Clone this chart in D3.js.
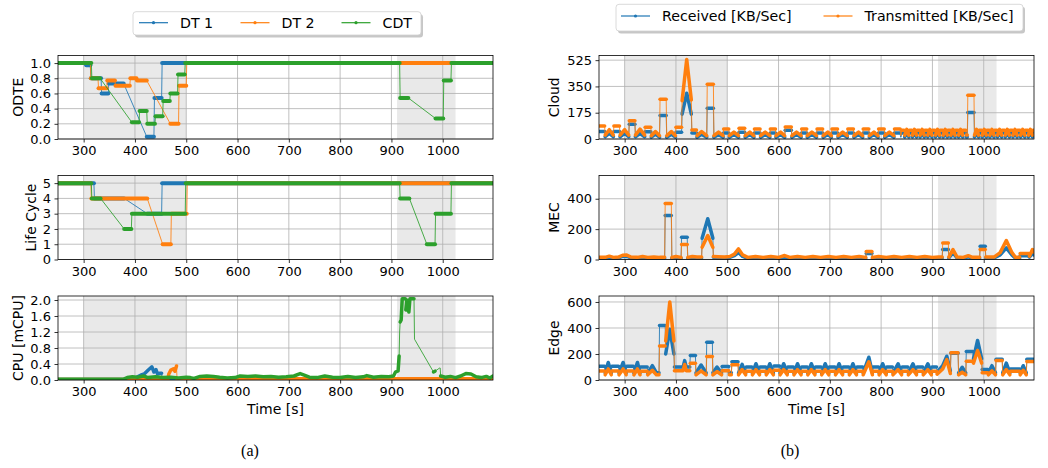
<!DOCTYPE html>
<meta charset="utf-8">
<style>
body { margin: 0; background: #fff; }
svg { font-family: "DejaVu Sans", sans-serif; }
.grid { stroke: #b0b0b0; stroke-width: 0.8; }
.frame { fill: none; stroke: #000; stroke-width: 0.8; }
.ylab, .xlab { font-size: 14px; }
.caption { font-family: "Liberation Serif", "DejaVu Serif", serif; font-size: 16px; }
</style>
<svg width="1048" height="468"></svg>
<script src="https://d3js.org/d3.v7.min.js"></script>
<script>

// ---- data ----
var xDomain = [250, 1098];
var xTicks = [300, 400, 500, 600, 700, 800, 900, 1000];
var spans = [[300, 500], [911, 1025]];

// left column: [time, value], null = no samples (thin connecting line)
var odteDT1 = [[250,1],[304,1],[305,0.97],[313,0.97],[314,0.8],[334,0.8],[335,0.6],[348,0.6],[349,0.73],[378,0.73],null,
  [423,0.03],[437,0.03],[438,0.54],[452,0.54],[453,1],[1098,1]];
var odteDT2 = [[250,1],[313,1],[314,0.8],[328,0.8],[329,0.67],[345,0.67],[346,0.77],[361,0.77],[362,0.7],[390,0.7],
  [391,0.8],[403,0.8],[404,0.77],[423,0.77],null,[469,0.2],[485,0.2],[486,0.7],[500,0.7],[501,1],[1098,1]];
var odteCDT = [[250,1],[315,1],[316,0.8],[332,0.8],null,[394,0.22],[408,0.22],[409,0.37],[423,0.37],[424,0.2],[439,0.2],
  [440,0.3],[454,0.3],[455,0.5],[468,0.5],[469,0.6],[483,0.6],[484,0.85],[497,0.85],[498,1],[916,1],[917,0.54],[933,0.54],null,
  [986,0.27],[1001,0.27],[1002,0.77],[1016,0.77],[1017,1],[1098,1]];

var lcDT1 = [[250,5],[320,5],[321,4],[379,4],null,[424,3],[452,3],[453,5],[1098,5]];
var lcDT2 = [[250,5],[314,5],[315,4],[424,4],null,[454,1],[470,1],[471,3],[501,3],[502,5],[1098,5]];
var lcCDT = [[250,5],[315,5],[316,4],[333,4],null,[379,2],[393,2],[394,3],[498,3],[499,5],[916,5],[917,4],[935,4],null,
  [969,1],[985,1],[986,3],[1016,3],[1017,5],[1098,5]];

var cpuDT1 = [[250,0.01],[400,0.01],[405,0.08],[411,0.12],[418,0.15],[426,0.25],[433,0.33],[437,0.2],[441,0.26],
  [444,0.15],[449,0.17],[452,0.17],[453,0.01],[1098,0.01]];
var cpuDT2 = [[250,0.01],[464,0.01],[466,0.15],[470,0.25],[475,0.28],[478,0.22],[481,0.35],[482,0.03],[1098,0.03]];
var cpuCDT = [[250,0.02],[378,0.02],[385,0.06],[395,0.08],[405,0.07],[417,0.1],[425,0.06],[440,0.08],[455,0.06],
  [470,0.07],[485,0.05],[500,0.07],[508,0.06],[515,0.04],[527,0.09],[540,0.1],[553,0.09],[565,0.07],[580,0.05],
  [595,0.06],[605,0.1],[620,0.09],[635,0.1],[650,0.08],[665,0.09],[680,0.07],[695,0.08],[710,0.1],[722,0.16],
  [730,0.12],[740,0.07],[755,0.06],[770,0.1],[785,0.07],[800,0.06],[815,0.09],[830,0.06],[845,0.08],[852,0.11],
  [865,0.07],[880,0.09],[895,0.08],[904,0.1],[908,0.2],[913,0.23],[915,0.6],[916,1.2],[917,1.45],[919,1.5],
  [921,2.03],[927,2.03],[928,1.75],[930,2.0],[932,1.8],[934,1.7],[936,2.03],[944,2.03],[945,1.02],null,
  [982,0.2],[985,0.22],null,[994,0.3],[995,0.3],[996,0.1],[1005,0.07],[1015,0.09],[1025,0.06],[1035,0.1],
  [1045,0.16],[1055,0.15],[1065,0.08],[1075,0.06],[1085,0.09],[1092,0.05],[1098,0.1]];

// right column: [time, received, transmitted]
var cloudRows = [
  [250,50,86],[261,50,86],[262,15,26],[270,38,62],[278,15,26],
  [279,50,86],[290,50,86],[291,15,26],[300,38,62],[308,15,26],
  [309,98,122],[320,98,122],[321,15,26],[330,38,66],[339,15,26],
  [340,48,78],[351,48,78],[352,12,22],[360,32,50],[368,12,22],
  [369,157,264],[381,157,264],[382,12,22],[391,32,50],[399,12,22],
  [400,45,78],[411,45,78],[412,165,255],[421,305,530],[430,165,260],
  [431,40,60],[440,40,60],[441,12,22],[450,32,50],[460,12,22],
  [461,204,365],[473,204,365],[474,12,22],[483,30,46],[492,12,22],
  [493,40,66],[503,40,66],[504,12,22],[513,30,46],[522,12,22],
  [523,45,72],[534,45,72],[535,12,22],[544,30,46],[552,12,22],
  [553,40,66],[564,40,66],[565,12,22],[574,30,46],[583,12,22],
  [584,40,66],[594,40,66],[595,12,22],[604,30,46],[612,12,22],
  [613,58,80],[625,58,80],[626,12,22],[635,30,46],[644,12,22],
  [645,40,66],[655,40,66],[656,12,22],[665,30,46],[674,12,22],
  [675,40,66],[686,40,66],[687,12,22],[696,30,46],[703,12,22],
  [704,40,66],[715,40,66],[716,12,22],[725,30,46],[734,12,22],
  [735,40,66],[746,40,66],[747,12,22],[756,30,46],[764,12,22],
  [765,40,66],[776,40,66],[777,12,22],[786,30,46],[794,12,22],
  [795,40,66],[806,40,66],[807,12,22],[816,30,46],[825,12,22],
  [826,40,66],[837,40,66],[838,12,22],[839,12,22],
  [840,40,58],[845,40,58],[846,14,26],[850,38,64],[854,14,26],
  [855,40,58],[860,40,58],[861,14,26],[865,38,64],[869,14,26],
  [870,40,58],[875,40,58],[876,14,26],[880,38,64],[884,14,26],
  [885,40,58],[890,40,58],[891,14,26],[895,38,64],[899,14,26],
  [900,40,58],[905,40,58],[906,14,26],[910,38,64],[914,14,26],
  [915,40,58],[920,40,58],[921,14,26],[925,38,64],[929,14,26],
  [930,40,58],[935,40,58],[936,14,26],[940,38,64],[944,14,26],
  [945,40,58],[950,40,58],[951,14,26],[955,38,64],[959,14,26],
  [960,40,58],[965,40,58],[966,14,26],[968,14,26],
  [969,177,292],[981,177,292],[982,14,26],[986,38,64],[990,14,26],
  [991,40,58],[996,40,58],[997,14,26],[1001,38,64],[1005,14,26],
  [1006,40,58],[1011,40,58],[1012,14,26],[1016,38,64],[1020,14,26],
  [1021,40,58],[1026,40,58],[1027,14,26],[1031,38,64],[1035,14,26],
  [1036,40,58],[1041,40,58],[1042,14,26],[1046,38,64],[1050,14,26],
  [1051,40,58],[1056,40,58],[1057,14,26],[1061,38,64],[1065,14,26],
  [1066,40,58],[1071,40,58],[1072,14,26],[1076,38,64],[1080,14,26],
  [1081,40,58],[1086,40,58],[1087,14,26],[1091,38,64],[1095,14,26],
  [1096,40,58],[1098,40,58]
];

var mecRows = [
  [250,8,14],[262,8,14],[270,12,22],[278,8,14],[288,10,16],[296,20,28],[304,22,30],[312,10,16],[325,8,14],
  [335,12,20],[345,8,14],[357,10,16],[368,8,14],[378,8,14],
  [379,290,368],[391,290,368],[392,8,14],[400,12,20],[410,8,14],
  [411,147,99],[422,147,99],[423,8,14],[432,12,20],[441,10,16],[450,10,16],
  [451,140,80],[462,268,158],[472,140,80],[473,15,20],[482,12,18],[495,10,16],[505,15,20],[514,25,35],
  [522,46,70],[530,20,30],[540,8,14],[555,12,20],[570,8,14],[585,12,20],[600,8,14],[612,14,26],[622,8,14],
  [637,12,20],[652,8,14],[667,12,20],[682,8,14],[697,12,20],[712,8,14],[727,12,20],[742,8,14],[757,12,20],[770,8,14],
  [771,40,53],[782,40,53],[783,8,14],[795,12,20],[810,8,14],[825,12,20],[840,8,14],[855,12,20],[870,8,14],
  [885,12,20],[900,8,14],[912,10,16],[919,10,16],
  [920,66,108],[931,66,108],[932,10,16],[940,46,66],[948,10,16],[960,8,14],[970,18,25],[978,8,14],[992,8,14],
  [993,88,66],[1003,88,66],[1004,10,16],[1020,10,16],[1032,30,45],[1044,77,125],[1055,30,45],[1062,8,14],[1070,8,14],
  [1071,25,40],[1088,25,40],[1089,15,22],[1095,40,66],[1098,30,50]
];

var edgeRows = [
  [250,105,70],[261,105,70],[262,55,40],[268,135,85],[274,55,40],
  [275,105,70],[288,105,70],[289,55,40],[297,135,85],[303,55,40],
  [304,105,70],[317,105,70],[318,55,40],[325,135,85],[330,55,40],
  [331,100,68],[344,100,68],[345,55,40],[354,110,75],[362,55,40],[367,55,40],
  [368,420,262],[379,420,262],[380,200,300],[388,390,600],[396,200,300],
  [397,100,72],[414,100,72],[417,149,119],[420,100,72],[427,100,72],
  [428,188,128],[438,188,128],[439,55,40],[449,115,70],[459,55,40],
  [460,291,180],[471,291,180],[472,55,40],[480,100,65],[489,55,40],
  [490,103,72],[503,103,72],[504,55,40],[508,55,40],[509,140,118],[521,140,118],
  [522,55,40],[529,120,80],[536,55,40],
  [537,100,68],[548,100,68],[549,55,40],[556,125,80],[563,55,40],
  [564,100,68],[575,100,68],[576,55,40],[583,125,80],[590,55,40],
  [591,108,75],[602,108,75],[603,55,40],[610,125,80],[617,55,40],
  [618,100,68],[629,100,68],[630,55,40],[637,125,80],[644,55,40],
  [645,100,68],[656,100,68],[657,55,40],[664,125,80],[671,55,40],
  [672,100,68],[683,100,68],[684,55,40],[691,125,80],[698,55,40],
  [699,100,68],[710,100,68],[711,55,40],[718,125,80],[725,55,40],
  [726,100,68],[737,100,68],[738,55,40],[745,125,80],[752,55,40],
  [753,100,68],[764,100,68],[765,55,40],[776,175,140],[783,55,40],
  [784,100,68],[795,100,68],[796,55,40],[803,125,80],[810,55,40],
  [811,100,68],[822,100,68],[823,55,40],[833,125,80],[840,55,40],
  [841,100,68],[852,100,68],[853,55,40],[862,125,80],[869,55,40],
  [870,100,68],[881,100,68],[882,55,40],[891,125,80],[898,55,40],
  [899,100,68],[908,100,68],[909,60,45],[920,110,85],[928,183,157],[935,70,50],
  [936,205,210],[950,205,210],[951,55,40],[958,98,60],[965,55,40],
  [966,219,144],[979,219,144],[980,165,130],[988,304,227],[996,165,130],
  [997,80,55],[1008,80,55],[1009,55,40],[1016,110,70],[1023,55,40],
  [1024,160,150],[1036,160,150],[1037,55,40],[1044,130,80],[1051,55,40],
  [1052,85,68],[1070,85,68],[1071,55,40],[1077,110,75],[1083,55,40],
  [1084,160,143],[1098,160,143]
];

// ---- drawing ----
var svg = d3.select("svg");
var blue = "#1f77b4", orange = "#ff7f0e", green = "#2ca02c";

var leftX = [58, 493], rightX = [599, 1034];
var rows = [[55.5, 139], [175.5, 259.5], [296, 380]];

function col(rowsArr, k) {
  return rowsArr.map(function(r) { return [r[0], r[k]]; });
}

function drawSeries(g, x, y, pts, color, w) {
  var line = d3.line().x(function(p) { return x(p[0]); }).y(function(p) { return y(p[1]); });
  g.append("path")
    .attr("d", line(pts.filter(function(p) { return p; })))
    .attr("fill", "none")
    .attr("stroke", color)
    .attr("stroke-width", 1)
    .attr("stroke-opacity", 0.85);

  // dense samples -> thick band, jumps and gaps stay thin
  var chains = [], cur = null;
  for (var i = 1; i < pts.length; i++) {
    var a = pts[i - 1], b = pts[i];
    if (a && b && b[0] - a[0] >= 1.5) {
      if (!cur) { cur = [a]; chains.push(cur); }
      cur.push(b);
    } else cur = null;
  }
  g.selectAll(null).data(chains).enter().append("path")
    .attr("d", line)
    .attr("fill", "none")
    .attr("stroke", color)
    .attr("stroke-width", w)
    .attr("stroke-linecap", "round")
    .attr("stroke-linejoin", "round");
}

var clipN = 0;
function panel(cfg) {
  var x = d3.scaleLinear().domain(xDomain).range(cfg.xr);
  var y = d3.scaleLinear().domain(cfg.yd).range([cfg.yr[1], cfg.yr[0]]);
  var g = svg.append("g");
  var id = "clip" + (clipN++);
  svg.append("clipPath").attr("id", id).append("rect")
    .attr("x", cfg.xr[0]).attr("y", cfg.yr[0])
    .attr("width", cfg.xr[1] - cfg.xr[0]).attr("height", cfg.yr[1] - cfg.yr[0]);

  g.selectAll(".span").data(spans).enter().append("rect")
    .attr("x", function(d) { return x(d[0]); })
    .attr("width", function(d) { return x(d[1]) - x(d[0]); })
    .attr("y", cfg.yr[0])
    .attr("height", cfg.yr[1] - cfg.yr[0])
    .attr("fill", "#e9e9e9");

  g.selectAll(".vg").data(xTicks).enter().append("line")
    .attr("class", "grid")
    .attr("x1", x).attr("x2", x)
    .attr("y1", cfg.yr[0]).attr("y2", cfg.yr[1]);
  g.selectAll(".hg").data(cfg.yTicks).enter().append("line")
    .attr("class", "grid")
    .attr("x1", cfg.xr[0]).attr("x2", cfg.xr[1])
    .attr("y1", y).attr("y2", y);

  var plot = g.append("g").attr("clip-path", "url(#" + id + ")");
  cfg.series.forEach(function(s) { drawSeries(plot, x, y, s[0], s[1], cfg.thick); });

  g.append("rect").attr("class", "frame")
    .attr("x", cfg.xr[0]).attr("y", cfg.yr[0])
    .attr("width", cfg.xr[1] - cfg.xr[0]).attr("height", cfg.yr[1] - cfg.yr[0]);

  var ax = g.append("g")
    .attr("transform", "translate(0," + cfg.yr[1] + ")")
    .call(d3.axisBottom(x).tickValues(xTicks).tickFormat(d3.format("d")).tickSize(3.5).tickPadding(3.5));
  var ay = g.append("g")
    .attr("transform", "translate(" + cfg.xr[0] + ",0)")
    .call(d3.axisLeft(y).tickValues(cfg.yTicks).tickFormat(d3.format(cfg.fmt)).tickSize(3.5).tickPadding(3.5));
  [ax, ay].forEach(function(a) {
    a.attr("font-size", 13).attr("font-family", "DejaVu Sans");
    a.select(".domain").remove();
    a.selectAll("line").attr("stroke-width", 0.8);
  });

  svg.append("text").attr("class", "ylab")
    .attr("transform", "translate(" + cfg.ylx + "," + (cfg.yr[0] + cfg.yr[1]) / 2 + ") rotate(-90)")
    .attr("text-anchor", "middle").attr("dy", "0.35em")
    .text(cfg.label);
  if (cfg.time) {
    svg.append("text").attr("class", "xlab")
      .attr("x", (cfg.xr[0] + cfg.xr[1]) / 2).attr("y", 414)
      .attr("text-anchor", "middle").text("Time [s]");
  }
}

var thickL = 4, thickR = 3.5;

panel({ xr: leftX, yr: rows[0], yd: [0, 1.1], yTicks: [0, 0.2, 0.4, 0.6, 0.8, 1.0], fmt: ".1f",
  label: "ODTE", ylx: 18, thick: thickL,
  series: [[odteDT1, blue], [odteDT2, orange], [odteCDT, green]] });
panel({ xr: leftX, yr: rows[1], yd: [0, 5.5], yTicks: [0, 1, 2, 3, 4, 5], fmt: "d",
  label: "Life Cycle", ylx: 31, thick: thickL,
  series: [[lcDT1, blue], [lcDT2, orange], [lcCDT, green]] });
panel({ xr: leftX, yr: rows[2], yd: [0, 2.1], yTicks: [0, 0.4, 0.8, 1.2, 1.6, 2.0], fmt: ".1f",
  label: "CPU [mCPU]", ylx: 18, thick: 3.5, time: true,
  series: [[cpuDT1, blue], [cpuDT2, orange], [cpuCDT, green]] });

panel({ xr: rightX, yr: rows[0], yd: [0, 556], yTicks: [0, 175, 350, 525], fmt: "d",
  label: "Cloud", ylx: 554, thick: thickR,
  series: [[col(cloudRows, 1), blue], [col(cloudRows, 2), orange]] });
panel({ xr: rightX, yr: rows[1], yd: [0, 553], yTicks: [0, 200, 400], fmt: "d",
  label: "MEC", ylx: 554, thick: thickR,
  series: [[col(mecRows, 1), blue], [col(mecRows, 2), orange]] });
panel({ xr: rightX, yr: rows[2], yd: [0, 646], yTicks: [0, 200, 400, 600], fmt: "d",
  label: "Edge", ylx: 554, thick: thickR, time: true,
  series: [[col(edgeRows, 1), blue], [col(edgeRows, 2), orange]] });

// legends
function legend(box, items) {
  var g = svg.append("g");
  g.append("rect").attr("x", box[0] + 2).attr("y", box[1] + 2.5)
    .attr("width", box[2] - box[0]).attr("height", box[3] - box[1])
    .attr("rx", 3).attr("fill", "#000").attr("fill-opacity", 0.22);
  g.append("rect").attr("x", box[0]).attr("y", box[1])
    .attr("width", box[2] - box[0]).attr("height", box[3] - box[1])
    .attr("rx", 3).attr("fill", "#fff").attr("stroke", "#d0d0d0").attr("stroke-width", 0.8);
  items.forEach(function(it) {
    g.append("line").attr("x1", it.x).attr("x2", it.x + 29).attr("y1", it.y).attr("y2", it.y)
      .attr("stroke", it.color).attr("stroke-width", 1.2);
    g.append("circle").attr("cx", it.x + 14.5).attr("cy", it.y).attr("r", 1.6).attr("fill", it.color);
    g.append("text").attr("x", it.x + 41).attr("y", it.y).attr("dy", "0.35em")
      .attr("font-size", 14.2).text(it.name);
  });
}
legend([133, 11.7, 421, 35], [
  { name: "DT 1", color: blue, x: 139, y: 22.7 },
  { name: "DT 2", color: orange, x: 240.5, y: 22.7 },
  { name: "CDT", color: green, x: 341.5, y: 22.7 }
]);
legend([616, 4.3, 1023, 31], [
  { name: "Received [KB/Sec]", color: blue, x: 621, y: 16 },
  { name: "Transmitted [KB/Sec]", color: orange, x: 823.5, y: 16 }
]);

svg.append("text").attr("class", "caption").attr("x", 250).attr("y", 456).attr("text-anchor", "middle").text("(a)");
svg.append("text").attr("class", "caption").attr("x", 790).attr("y", 456).attr("text-anchor", "middle").text("(b)");

</script>
